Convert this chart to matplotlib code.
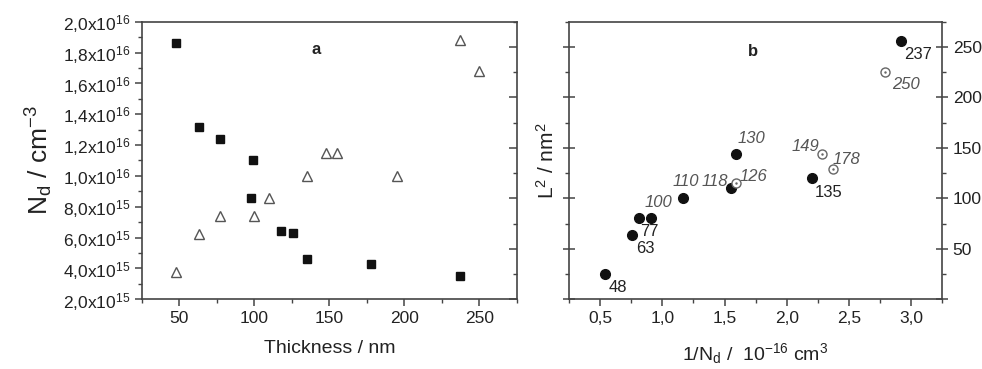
import matplotlib
matplotlib.use("Agg")
import matplotlib.pyplot as plt
from matplotlib.ticker import MultipleLocator, FuncFormatter

plt.rcParams['font.family'] = ['Liberation Sans', 'DejaVu Sans']
plt.rcParams['mathtext.fontset'] = 'custom'
plt.rcParams['mathtext.rm'] = 'Liberation Sans'
plt.rcParams['mathtext.it'] = 'Liberation Sans:italic'
plt.rcParams['mathtext.bf'] = 'Liberation Sans:bold'

# ---- Panel a data: thickness (nm) vs Nd (cm^-3)
sq_thick = [48, 63, 77, 99, 98, 118, 126, 135, 178, 237]
sq_nd = [1.86e16, 1.32e16, 1.24e16, 1.10e16, 8.6e15, 6.45e15, 6.3e15, 4.6e15, 4.3e15, 3.5e15]
tri_thick = [48, 63, 77, 100, 110, 135, 148, 155, 195, 237, 250]
tri_nd = [3.75e15, 6.25e15, 7.4e15, 7.4e15, 8.6e15, 1.0e16, 1.15e16, 1.15e16, 1.0e16, 1.88e16, 1.68e16]

# ---- Panel b data: 1/Nd (1e-16 cm^3) vs L^2 (nm^2)
fill_x = [0.54, 0.76, 0.81, 0.91, 1.165, 1.555, 1.59, 2.20, 2.92]
fill_y = [25, 64, 81, 81, 100, 110, 144, 120, 256]
fill_lab = ['48', '63', '', '77', '110', '118', '130', '135', '237']
open_x = [1.59, 2.28, 2.37, 2.79]
open_y = [115, 144, 129, 225]
open_lab = ['126', '149', '178', '250']
extra_lab = '100'

# label offsets (points) and styles
fill_off = [(9, -10), (9, -10), (0, 0), (-1, -10), (2, 12), (-12, 5), (11, 11), (12, -10), (12, -10)]
fill_it = [False, False, False, False, True, True, True, False, False]
open_off = [(13, 5), (-12, 5), (10, 7), (15, -9)]

dark = '#222222'
gray = '#555555'
spine_c = '#444444'

fig = plt.figure(figsize=(9.82, 3.69), dpi=100)
axa = fig.add_axes([0.1446, 0.1889, 0.5262 - 0.1446, 0.9412 - 0.1889])
axb = fig.add_axes([0.5794, 0.1889, 0.9596 - 0.5794, 0.9412 - 0.1889])

for ax in (axa, axb):
    for s in ax.spines.values():
        s.set_color(spine_c)
        s.set_linewidth(1.2)

# ---- Panel a
axa.plot(sq_thick, sq_nd, 's', color='#111111', ms=6.2, mec='#111111', ls='none')
axa.plot(tri_thick, tri_nd, '^', mfc='none', mec=gray, mew=1.0, ms=7.5, ls='none')
axa.set_xlim(25, 275)
axa.set_ylim(2e15, 2e16)
axa.xaxis.set_major_locator(MultipleLocator(50))
axa.xaxis.set_minor_locator(MultipleLocator(25))
axa.yaxis.set_major_locator(MultipleLocator(2e15))
axa.yaxis.set_minor_locator(MultipleLocator(1e15))

def sci(v, pos):
    if v <= 0:
        return ''
    e = 0
    m = v
    while m >= 10:
        m /= 10
        e += 1
    return ('%.1f' % m).replace('.', ',') + 'x10$^{\\mathregular{%d}}$' % e

axa.yaxis.set_major_formatter(FuncFormatter(sci))
axa.tick_params(axis='both', which='both', direction='out', colors=spine_c,
                labelcolor=dark, labelsize=12.5, top=False, right=False)
axa.tick_params(which='major', length=5, width=1.1)
axa.tick_params(which='minor', length=3, width=1.0)
axa.set_xlabel('Thickness / nm', fontsize=14, color=dark, labelpad=10)
axa.set_ylabel('N$_\\mathregular{d}$ / cm$^\\mathregular{-3}$', fontsize=19, color=dark, labelpad=6)
axa.text(141, 1.82e16, 'a', fontsize=12, fontweight='bold', color=dark,
         ha='center', va='center')

# twin axis for right-side ticks of panel a (L^2 scale)
axa2 = axa.twinx()
axa2.set_ylim(0, 275)
axa2.yaxis.set_major_locator(MultipleLocator(50))
axa2.yaxis.set_minor_locator(MultipleLocator(25))
axa2.tick_params(axis='y', which='both', direction='in', colors=spine_c, labelright=False)
axa2.tick_params(which='major', length=6, width=1.1)
axa2.tick_params(which='minor', length=3, width=1.0)
for s in axa2.spines.values():
    s.set_visible(False)

# ---- Panel b
axb.plot(fill_x, fill_y, 'o', color='#111111', ms=7, ls='none')
axb.plot(open_x, open_y, 'o', mfc='white', mec='#666666', mew=1.0, ms=6.5, ls='none')
axb.plot(open_x, open_y, '.', color='#666666', ms=1.5, ls='none')
for x, y, t, off, it in zip(fill_x, fill_y, fill_lab, fill_off, fill_it):
    if t:
        axb.annotate(t, (x, y), xytext=off, textcoords='offset points',
                     ha='center', va='center', fontsize=12,
                     style='italic' if it else 'normal',
                     color=gray if it else dark)
axb.annotate(extra_lab, (fill_x[3], fill_y[3]), xytext=(5, 11), textcoords='offset points',
             ha='center', va='center', fontsize=12, style='italic', color=gray)
for x, y, t, off in zip(open_x, open_y, open_lab, open_off):
    axb.annotate(t, (x, y), xytext=off, textcoords='offset points',
                 ha='center', va='center', fontsize=12, style='italic', color=gray)
axb.text(1.73, 245, 'b', fontsize=12, fontweight='bold', color=dark, ha='center', va='center')

axb.set_xlim(0.25, 3.25)
axb.set_ylim(0, 275)
axb.xaxis.set_major_locator(MultipleLocator(0.5))
axb.xaxis.set_minor_locator(MultipleLocator(0.25))
axb.yaxis.set_major_locator(MultipleLocator(50))
axb.yaxis.set_minor_locator(MultipleLocator(25))
axb.xaxis.set_major_formatter(FuncFormatter(lambda v, p: ('%.1f' % v).replace('.', ',')))
axb.yaxis.set_major_formatter(FuncFormatter(lambda v, p: '' if v == 0 else '%d' % v))
axb.tick_params(axis='x', which='both', direction='out', colors=spine_c,
                labelcolor=dark, labelsize=12.5, top=False)
axb.tick_params(axis='y', which='both', left=True, right=True, labelleft=False,
                labelright=True, colors=spine_c, labelcolor=dark, labelsize=12.5)
axb.tick_params(axis='y', which='major', direction='inout', length=8, width=1.1)
axb.tick_params(axis='y', which='minor', direction='out', length=3, width=1.0)
axb.tick_params(axis='x', which='major', length=5, width=1.1)
axb.tick_params(axis='x', which='minor', length=3, width=1.0)
axb.set_xlabel('1/N$_\\mathregular{d}$ /  10$^\\mathregular{-16}$ cm$^\\mathregular{3}$',
               fontsize=14, color=dark, labelpad=11)
axb.set_ylabel('L$^\\mathregular{2}$ / nm$^\\mathregular{2}$', fontsize=15, color=dark, labelpad=4)

fig.savefig('out.png', dpi=100)
